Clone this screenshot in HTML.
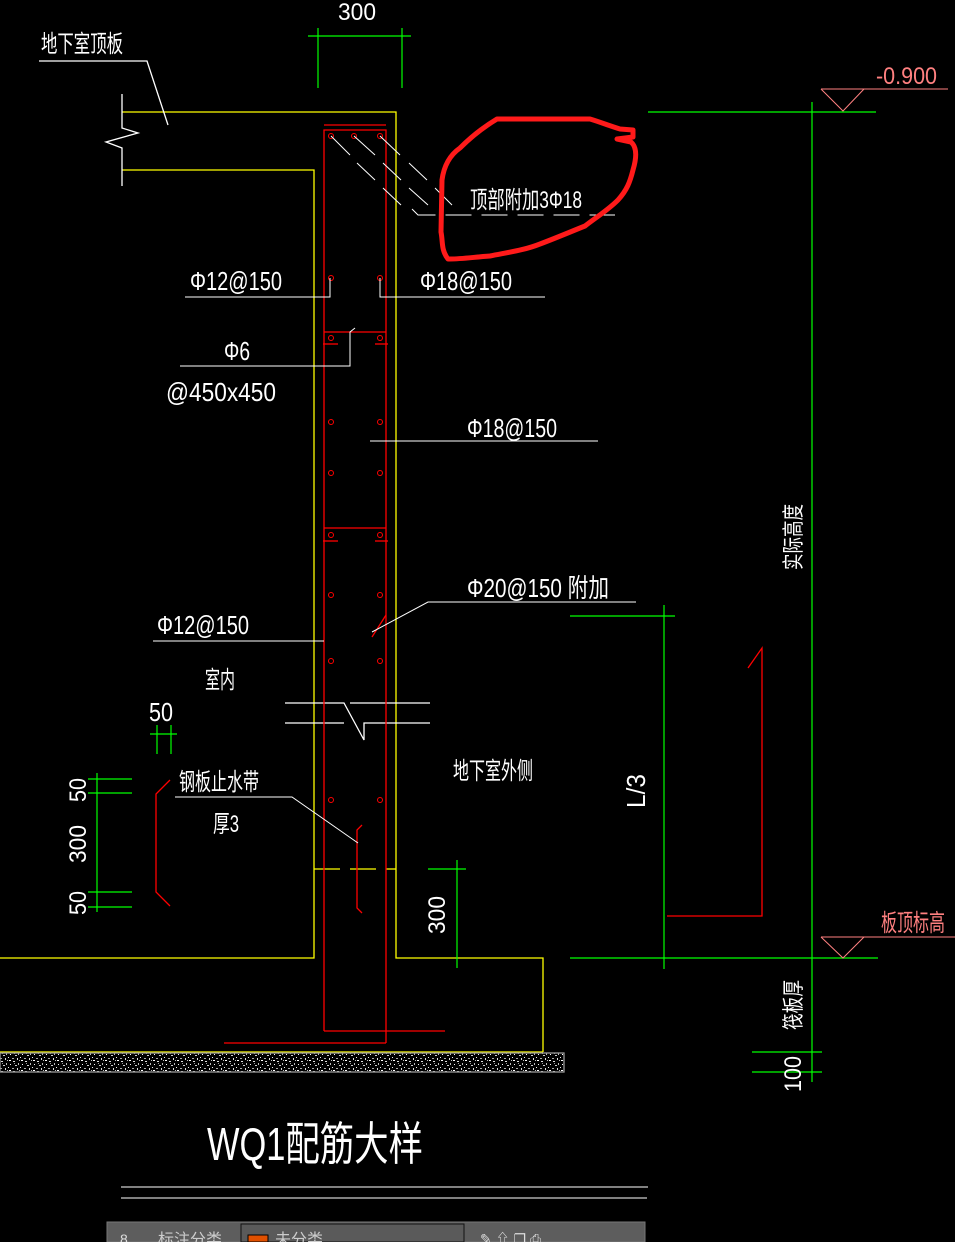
<!DOCTYPE html>
<html><head><meta charset="utf-8"><style>
html,body{margin:0;padding:0;background:#000;}
svg{display:block;}
text{font-family:"Liberation Sans","Noto Sans CJK SC",sans-serif;fill:#fff;font-weight:normal;}
</style></head><body>
<svg width="955" height="1242" viewBox="0 0 955 1242" xmlns="http://www.w3.org/2000/svg">
<defs>
<pattern id="grav" width="12" height="10" patternUnits="userSpaceOnUse">
<rect width="12" height="10" fill="#000"/>
<rect x="1" y="1" width="2" height="1" fill="#ddd"/><rect x="6" y="3" width="1" height="2" fill="#bbb"/>
<rect x="9" y="0" width="2" height="1" fill="#fff"/><rect x="3" y="5" width="2" height="1" fill="#ccc"/>
<rect x="8" y="7" width="1" height="1" fill="#eee"/><rect x="0" y="8" width="2" height="1" fill="#aaa"/>
<rect x="5" y="8" width="1" height="2" fill="#ddd"/><rect x="10" y="4" width="1" height="1" fill="#fff"/>
<rect x="2" y="3" width="1" height="1" fill="#999"/><rect x="7" y="0" width="1" height="1" fill="#bbb"/>
</pattern>
</defs>
<g fill="none" stroke-width="1.3">
<g stroke="#ffff00">
<polyline points="122,112 396,112 396,958 543,958 543,1052"/>
<polyline points="122,170 314,170 314,958 0,958"/>
<line x1="0" y1="1052" x2="543" y2="1052"/>
<line x1="314" y1="869" x2="340" y2="869"/><line x1="350" y1="869" x2="376" y2="869"/><line x1="386" y1="869" x2="396" y2="869"/>
</g>
<rect x="0" y="1053" width="564" height="19" fill="url(#grav)" stroke="#999"/>
<g stroke="#fff">
<polyline points="122,94 122,128 138,133 106,142 122,148 122,186"/>
<polyline points="39,61 147,61 168,125"/>
<polyline points="285,703 344,703 364,740 364,723 430,723"/>
<polyline points="285,723 344,723"/><polyline points="350,703 430,703"/>
</g>
<g stroke="#ff0000">
<polyline points="324,1031 324,130 386,130 386,1043"/>
<line x1="324" y1="1031" x2="445" y2="1031"/>
<line x1="224" y1="1043" x2="386" y2="1043"/>
<line x1="324" y1="125" x2="386" y2="125"/>
<line x1="324" y1="332" x2="386" y2="332"/><line x1="324" y1="528" x2="386" y2="528"/>
<line x1="323" y1="344" x2="338" y2="344"/><line x1="375" y1="344" x2="388" y2="344"/>
<line x1="323" y1="541" x2="338" y2="541"/><line x1="375" y1="541" x2="388" y2="541"/>
<polyline points="170,780 156,794 156,892 170,906"/>
<polyline points="362,825 357,830 357,908 362,913"/>
<line x1="372" y1="637" x2="386" y2="615"/>
<polyline points="748,668 762,648 762,916 667,916"/>
</g>
<g stroke="#ff0000" stroke-width="1">
<circle cx="331" cy="136" r="2.5"/><circle cx="354" cy="136" r="2.5"/><circle cx="380" cy="136" r="2.5"/>
<circle cx="331" cy="278" r="2.5"/><circle cx="380" cy="278" r="2.5"/>
<circle cx="331" cy="338" r="2.5"/><circle cx="380" cy="338" r="2.5"/>
<circle cx="331" cy="422" r="2.5"/><circle cx="380" cy="422" r="2.5"/>
<circle cx="331" cy="473" r="2.5"/><circle cx="380" cy="473" r="2.5"/>
<circle cx="331" cy="535" r="2.5"/><circle cx="380" cy="535" r="2.5"/>
<circle cx="331" cy="595" r="2.5"/><circle cx="380" cy="595" r="2.5"/>
<circle cx="331" cy="661" r="2.5"/><circle cx="380" cy="661" r="2.5"/>
<circle cx="331" cy="800" r="2.5"/><circle cx="380" cy="800" r="2.5"/>
</g>
<g stroke="#fff" stroke-width="1">
<line x1="331" y1="136" x2="350" y2="155"/><line x1="354" y1="136" x2="375" y2="155"/><line x1="380" y1="136" x2="400" y2="155"/>
<line x1="357" y1="163" x2="375" y2="180"/><line x1="383" y1="163" x2="401" y2="180"/><line x1="409" y1="163" x2="427" y2="180"/>
<line x1="383" y1="188" x2="401" y2="205"/><line x1="409" y1="188" x2="428" y2="205"/><line x1="435" y1="188" x2="452" y2="205"/>
<polyline points="412,209 418,215 615,215" stroke-dasharray="26,10"/>
<polyline points="185,297 330,297 330,278"/>
<polyline points="545,297 380,297 380,278"/>
<polyline points="180,366 350,366 350,332 355,328"/>
<line x1="370" y1="441" x2="598" y2="441"/>
<polyline points="153,641 324,641"/>
<polyline points="372,632 428,602 636,602"/>
<polyline points="175,797 292,797 358,843"/>
<line x1="121" y1="1187" x2="648" y2="1187"/><line x1="121" y1="1198" x2="647" y2="1198"/>
</g>
<g stroke="#00ff00" stroke-width="1.2">
<line x1="308" y1="36" x2="411" y2="36"/><line x1="318" y1="28" x2="318" y2="88"/><line x1="402" y1="28" x2="402" y2="88"/>
<line x1="648" y1="112" x2="876" y2="112"/><line x1="812" y1="102" x2="812" y2="1082"/>
<line x1="570" y1="958" x2="878" y2="958"/>
<line x1="570" y1="616" x2="675" y2="616"/><line x1="664" y1="605" x2="664" y2="969"/>
<line x1="752" y1="1052" x2="822" y2="1052"/><line x1="752" y1="1072" x2="822" y2="1072"/>
<line x1="428" y1="869" x2="466" y2="869"/><line x1="457" y1="860" x2="457" y2="968"/>
<line x1="150" y1="734" x2="177" y2="734"/><line x1="157" y1="725" x2="157" y2="754"/><line x1="171" y1="725" x2="171" y2="754"/>
<line x1="88" y1="779" x2="132" y2="779"/><line x1="88" y1="793" x2="132" y2="793"/>
<line x1="88" y1="892" x2="132" y2="892"/><line x1="88" y1="907" x2="132" y2="907"/>
<line x1="97" y1="773" x2="97" y2="912"/>
</g>
<g stroke="#ff8080" stroke-width="1">
<polyline points="821,89 948,89"/><polyline points="821,89 843,111 864,89"/>
<polyline points="821,937 955,937"/><polyline points="821,937 843,958 864,937"/>
</g>
<path d="M497,119 L590,119 C600,122 610,126 620,129 L633,130 L633,137 L617,139 L631,142 C638,148 636,160 633,170 C630,182 627,190 618,200 C608,210 598,216 585,226 C570,232 556,238 540,244 C525,250 510,252 490,256 C475,257 462,259 450,259 L448,259 C441,250 443,242 441,232 L442,180 C444,165 450,155 460,148 C470,138 482,128 497,119 Z" stroke="#ff1a1a" stroke-width="5" stroke-linejoin="round"/>
</g>
<text x="41" y="52" font-size="24" textLength="82" lengthAdjust="spacingAndGlyphs">地下室顶板</text>
<text x="338" y="20" font-size="24" textLength="38" lengthAdjust="spacingAndGlyphs">300</text>
<text x="876" y="84" font-size="24" textLength="61" lengthAdjust="spacingAndGlyphs" style="fill:#ff8080">-0.900</text>
<text x="470" y="208" font-size="24" textLength="112" lengthAdjust="spacingAndGlyphs">顶部附加3Φ18</text>
<text x="190" y="290" font-size="26" textLength="92" lengthAdjust="spacingAndGlyphs">Φ12@150</text>
<text x="420" y="290" font-size="26" textLength="92" lengthAdjust="spacingAndGlyphs">Φ18@150</text>
<text x="224" y="360" font-size="26" textLength="26" lengthAdjust="spacingAndGlyphs">Φ6</text>
<text x="166" y="401" font-size="26" textLength="110" lengthAdjust="spacingAndGlyphs">@450x450</text>
<text x="467" y="437" font-size="26" textLength="90" lengthAdjust="spacingAndGlyphs">Φ18@150</text>
<text x="467" y="597" font-size="26" textLength="142" lengthAdjust="spacingAndGlyphs">Φ20@150  附加</text>
<text x="157" y="634" font-size="26" textLength="92" lengthAdjust="spacingAndGlyphs">Φ12@150</text>
<text x="205" y="688" font-size="24" textLength="30" lengthAdjust="spacingAndGlyphs">室内</text>
<text x="149" y="721" font-size="26" textLength="24" lengthAdjust="spacingAndGlyphs">50</text>
<text x="179" y="790" font-size="24" textLength="80" lengthAdjust="spacingAndGlyphs">钢板止水带</text>
<text x="213" y="832" font-size="24" textLength="26" lengthAdjust="spacingAndGlyphs">厚3</text>
<text x="453" y="779" font-size="24" textLength="80" lengthAdjust="spacingAndGlyphs">地下室外侧</text>
<text x="881" y="931" font-size="24" textLength="64" lengthAdjust="spacingAndGlyphs" style="fill:#ff8080">板顶标高</text>
<text transform="translate(86,802) rotate(-90)" font-size="24" textLength="24" lengthAdjust="spacingAndGlyphs">50</text>
<text transform="translate(86,863) rotate(-90)" font-size="24" textLength="38" lengthAdjust="spacingAndGlyphs">300</text>
<text transform="translate(86,915) rotate(-90)" font-size="24" textLength="24" lengthAdjust="spacingAndGlyphs">50</text>
<text transform="translate(445,934) rotate(-90)" font-size="24" textLength="38" lengthAdjust="spacingAndGlyphs">300</text>
<text transform="translate(645,808) rotate(-90)" font-size="26" textLength="34" lengthAdjust="spacingAndGlyphs">L/3</text>
<text transform="translate(801,570) rotate(-90)" font-size="22" textLength="66" lengthAdjust="spacingAndGlyphs">实际高度</text>
<text transform="translate(801,1030) rotate(-90)" font-size="22" textLength="50" lengthAdjust="spacingAndGlyphs">筏板厚</text>
<text transform="translate(801,1092) rotate(-90)" font-size="24" textLength="36" lengthAdjust="spacingAndGlyphs">100</text>
<text x="207" y="1160" font-size="46" textLength="216" lengthAdjust="spacingAndGlyphs">WQ1配筋大样</text>
<rect x="107" y="1222" width="538" height="20" fill="#5d5d5d" stroke="#777"/>
<rect x="241" y="1224" width="223" height="18" fill="#5a5a5a" stroke="#111"/>
<rect x="248" y="1235" width="20" height="7" fill="#e05000" stroke="#000"/>
<text x="158" y="1245" font-size="16" style="fill:#ccc">标注分类</text>
<text x="275" y="1245" font-size="16" style="fill:#ccc">未分类</text>
<text x="120" y="1244" font-size="14" style="fill:#ddd">8</text>
<text x="480" y="1244" font-size="14" style="fill:#ddd">✎  ⇧  ❐  ⎙</text>
</svg>
</body></html>
